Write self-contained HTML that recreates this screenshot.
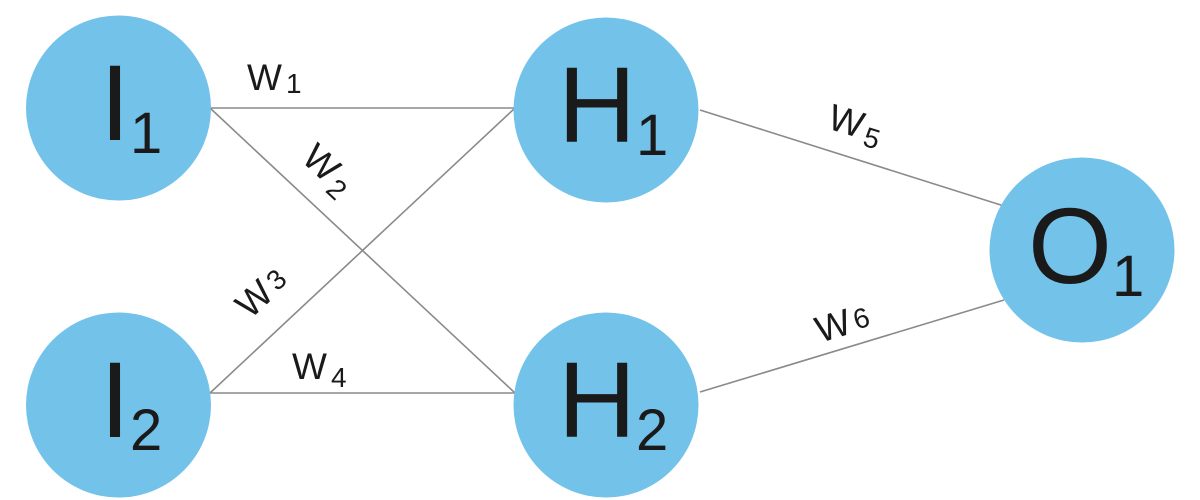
<!DOCTYPE html>
<html><head><meta charset="utf-8"><style>
html,body{margin:0;padding:0;background:#fff;}
svg{display:block}
text{font-family:"Liberation Sans",sans-serif;fill:#1a1a1a}
</style></head><body>
<svg width="1200" height="500" viewBox="0 0 1200 500">
<g stroke="#8a8a8a" stroke-width="1.6" fill="none">
<line x1="210" y1="108" x2="515" y2="108"/>
<line x1="210" y1="108" x2="515" y2="393"/>
<line x1="210" y1="393" x2="515" y2="108"/>
<line x1="210" y1="393" x2="515" y2="393"/>
<line x1="700" y1="110" x2="1004" y2="206"/>
<line x1="700" y1="392" x2="1004" y2="300"/>
</g>
<g fill="#73c2ea">
<circle cx="118.5" cy="108" r="92.5"/>
<circle cx="118.5" cy="405" r="92.5"/>
<circle cx="606" cy="110" r="92.5"/>
<circle cx="606" cy="405" r="92.5"/>
<circle cx="1082" cy="250" r="92.5"/>
</g>
<g font-size="108">
<text x="100" y="140">I<tspan font-size="58" dy="13">1</tspan></text>
<text x="100" y="437">I<tspan font-size="58" dy="13">2</tspan></text>
<text x="558" y="142">H<tspan font-size="58" dy="13">1</tspan></text>
<text x="558" y="437">H<tspan font-size="58" dy="13">2</tspan></text>
<text x="1028" y="283">O<tspan font-size="58" dy="13">1</tspan></text>
</g>
<g font-size="37">
<text x="247" y="90">W<tspan font-size="28" dx="4" dy="3">1</tspan></text>
<text x="292" y="379">W<tspan font-size="28" dx="4" dy="8">4</tspan></text>
<text transform="translate(300,160) rotate(43)">W<tspan font-size="28" dx="4" dy="6">2</tspan></text>
<text transform="translate(250,320) rotate(-43)">W<tspan font-size="28" dx="4" dy="-2">3</tspan></text>
<text transform="translate(826,128) rotate(17)">W<tspan font-size="28" dx="4" dy="6">5</tspan></text>
<text transform="translate(820,343) rotate(-17)">W<tspan font-size="28" dx="4" dy="-2">6</tspan></text>
</g>
</svg>
</body></html>
